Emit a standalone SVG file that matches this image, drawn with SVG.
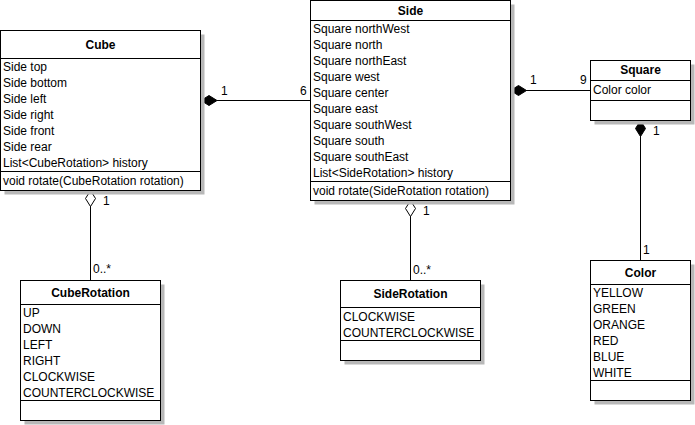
<svg xmlns="http://www.w3.org/2000/svg" width="695" height="425" viewBox="0 0 695 425">
<style>
text{font-family:"Liberation Sans",Arial,sans-serif;font-size:12px;fill:#000}
.h{font-weight:bold;text-anchor:middle}
.box{fill:#fff;stroke:#000;stroke-width:1}
.sh{fill:#b8b8b8}
.sep{stroke:#000;stroke-width:1}
.ln{stroke:#000;stroke-width:1;fill:none}
.fd{fill:#000;stroke:#000;stroke-width:1}
.hd{fill:#fff;stroke:#000;stroke-width:1}
</style>
<rect width="695" height="425" fill="#fff"/>
<g id="connectors">
<line class="ln" x1="217" y1="100.5" x2="310" y2="100.5"/>
<polygon class="fd" points="201,100.5 209,95.5 217,100.5 209,105.5"/>
<text x="221" y="95">1</text><text x="300" y="95">6</text>
<line class="ln" x1="526" y1="90.5" x2="590" y2="90.5"/>
<polygon class="fd" points="510.5,90.5 518.5,85.5 526.5,90.5 518.5,95.5"/>
<text x="530" y="84">1</text><text x="580" y="84">9</text>
<line class="ln" x1="640.5" y1="136" x2="640.5" y2="260"/>
<polygon class="fd" points="640.5,120.5 645.5,128.5 640.5,136.5 635.5,128.5"/>
<text x="653" y="135">1</text><text x="643" y="254">1</text>
<line class="ln" x1="90.5" y1="206" x2="90.5" y2="280"/>
<polygon class="hd" points="90.5,190.5 95.5,198.5 90.5,206.5 85.5,198.5"/>
<text x="103" y="205">1</text><text x="93" y="273">0..*</text>
<line class="ln" x1="410.5" y1="216" x2="410.5" y2="280"/>
<polygon class="hd" points="410.5,200.5 415.5,208.5 410.5,216.5 405.5,208.5"/>
<text x="423" y="215">1</text><text x="413" y="274">0..*</text>
</g>
<g id="Cube">
<rect class="sh" x="4.5" y="34.5" width="200" height="160"/>
<rect class="box" x="0.5" y="30.5" width="200" height="160"/>
<line class="sep" x1="0.5" y1="58.5" x2="200.5" y2="58.5"/>
<line class="sep" x1="0.5" y1="171.5" x2="200.5" y2="171.5"/>
<text class="h" x="100.5" y="49">Cube</text>
<text x="3" y="71">Side top</text>
<text x="3" y="87">Side bottom</text>
<text x="3" y="103">Side left</text>
<text x="3" y="119">Side right</text>
<text x="3" y="135">Side front</text>
<text x="3" y="151">Side rear</text>
<text x="3" y="167">List&lt;CubeRotation&gt; history</text>
<text x="3" y="185">void rotate(CubeRotation rotation)</text>
</g>
<g id="Side">
<rect class="sh" x="314.5" y="4.5" width="200" height="200"/>
<rect class="box" x="310.5" y="0.5" width="200" height="200"/>
<line class="sep" x1="310.5" y1="20.5" x2="510.5" y2="20.5"/>
<line class="sep" x1="310.5" y1="181.5" x2="510.5" y2="181.5"/>
<text class="h" x="410.5" y="15">Side</text>
<text x="313" y="33">Square northWest</text>
<text x="313" y="49">Square north</text>
<text x="313" y="65">Square northEast</text>
<text x="313" y="81">Square west</text>
<text x="313" y="97">Square center</text>
<text x="313" y="113">Square east</text>
<text x="313" y="129">Square southWest</text>
<text x="313" y="145">Square south</text>
<text x="313" y="161">Square southEast</text>
<text x="313" y="177">List&lt;SideRotation&gt; history</text>
<text x="313" y="195">void rotate(SideRotation rotation)</text>
</g>
<g id="Square">
<rect class="sh" x="594.5" y="64.5" width="100" height="60"/>
<rect class="box" x="590.5" y="60.5" width="100" height="60"/>
<line class="sep" x1="590.5" y1="80.5" x2="690.5" y2="80.5"/>
<line class="sep" x1="590.5" y1="100.5" x2="690.5" y2="100.5"/>
<text class="h" x="640.5" y="74">Square</text>
<text x="593" y="94">Color color</text>
</g>
<g id="Color">
<rect class="sh" x="594.5" y="264.5" width="100" height="140"/>
<rect class="box" x="590.5" y="260.5" width="100" height="140"/>
<line class="sep" x1="590.5" y1="284.5" x2="690.5" y2="284.5"/>
<line class="sep" x1="590.5" y1="380.5" x2="690.5" y2="380.5"/>
<text class="h" x="640.5" y="277">Color</text>
<text x="593" y="297">YELLOW</text>
<text x="593" y="313">GREEN</text>
<text x="593" y="329">ORANGE</text>
<text x="593" y="345">RED</text>
<text x="593" y="361">BLUE</text>
<text x="593" y="377">WHITE</text>
</g>
<g id="CubeRotation">
<rect class="sh" x="24.5" y="284.5" width="140" height="140"/>
<rect class="box" x="20.5" y="280.5" width="140" height="140"/>
<line class="sep" x1="20.5" y1="304.5" x2="160.5" y2="304.5"/>
<line class="sep" x1="20.5" y1="400.5" x2="160.5" y2="400.5"/>
<text class="h" x="90.5" y="297">CubeRotation</text>
<text x="23" y="317">UP</text>
<text x="23" y="333">DOWN</text>
<text x="23" y="349">LEFT</text>
<text x="23" y="365">RIGHT</text>
<text x="23" y="381">CLOCKWISE</text>
<text x="23" y="397">COUNTERCLOCKWISE</text>
</g>
<g id="SideRotation">
<rect class="sh" x="344.5" y="284.5" width="140" height="80"/>
<rect class="box" x="340.5" y="280.5" width="140" height="80"/>
<line class="sep" x1="340.5" y1="307.5" x2="480.5" y2="307.5"/>
<line class="sep" x1="340.5" y1="340.5" x2="480.5" y2="340.5"/>
<text class="h" x="410.5" y="298">SideRotation</text>
<text x="343" y="321">CLOCKWISE</text>
<text x="343" y="337">COUNTERCLOCKWISE</text>
</g>
</svg>
